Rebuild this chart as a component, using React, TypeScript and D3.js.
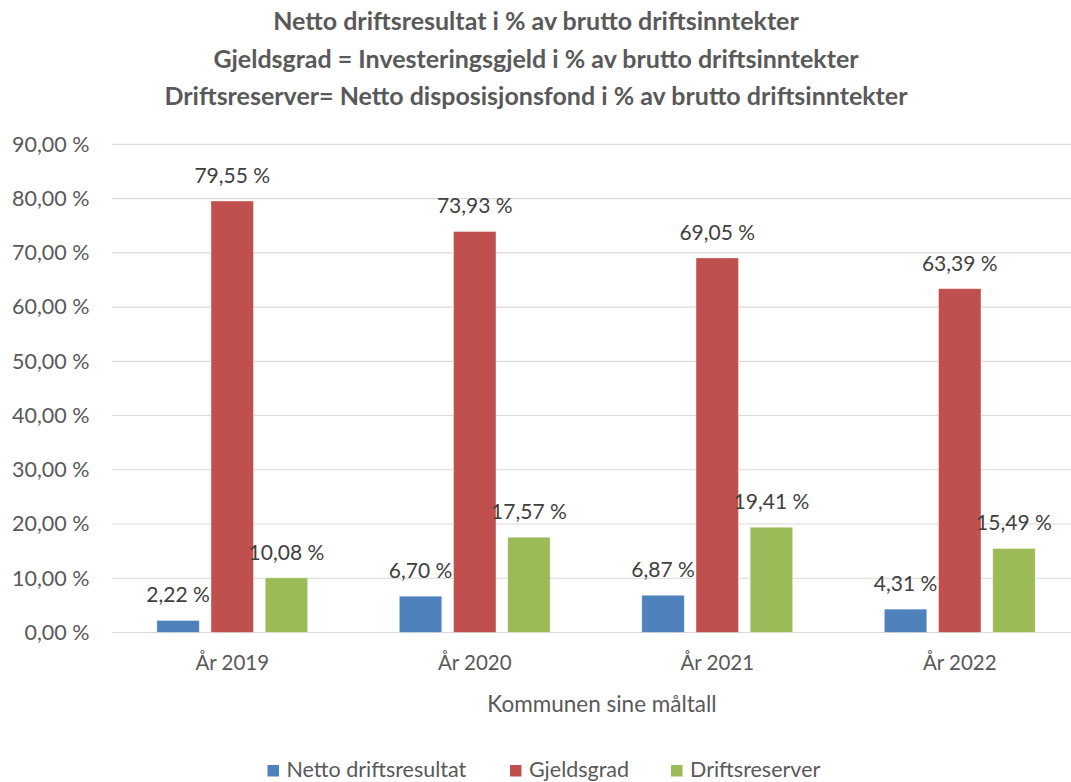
import React from "react";
import * as d3 from "d3";

const categories: string[] = ["År 2019", "År 2020", "År 2021", "År 2022"];
const seriesNames: string[] = ["Netto driftsresultat", "Gjeldsgrad", "Driftsreserver"];
const nettoDriftsresultat: number[] = [2.22, 6.7, 6.87, 4.31];
const gjeldsgrad: number[] = [79.55, 73.93, 69.05, 63.39];
const driftsreserver: number[] = [10.08, 17.57, 19.41, 15.49];
const yTicks: number[] = [0, 10, 20, 30, 40, 50, 60, 70, 80, 90];
const titleLines: string[] = [
  "Netto driftsresultat i % av brutto driftsinntekter",
  "Gjeldsgrad = Investeringsgjeld i % av brutto driftsinntekter",
  "Driftsreserver= Netto disposisjonsfond i % av brutto driftsinntekter",
];
const xAxisTitle = "Kommunen sine måltall";
const colors: string[] = ["#4F81BD", "#C0504D", "#9BBB59"];

const W = 1071;
const H = 782;
const FONT = "Lato, 'Open Sans', sans-serif";

const fmt = (v: number) => v.toFixed(2).replace(".", ",") + " %";

export default function App() {
  const series = [nettoDriftsresultat, gjeldsgrad, driftsreserver];
  const x = d3.scaleBand<string>().domain(categories).range([111, 1081]).padding(0);
  const y = d3.scaleLinear().domain([0, 90]).range([632.5, 144.3]);
  const barW = 42.5;
  const barStep = 54.2;
  const gridLeft = 112;
  const legendX = [267.5, 510, 671];

  return (
    <div style={{ position: "absolute", left: 0, top: 0 }}>
      <svg width={W} height={H} style={{ display: "block", background: "#fff" }} fontFamily={FONT}>
        {titleLines.map((t, i) => (
          <text key={i} x={536} y={30 + i * 37.5} textAnchor="middle" fontSize={25} fontWeight={700} fill="#595959">
            {t}
          </text>
        ))}
        {yTicks.map((t) => (
          <line key={t} x1={gridLeft} x2={1081} y1={y(t)} y2={y(t)} stroke="#D9D9D9" strokeWidth={1.2} />
        ))}
        {yTicks.map((t) => (
          <text key={"l" + t} x={89.5} y={y(t) + 7.3} textAnchor="end" fontSize={21.5} fill="#595959">
            {fmt(t)}
          </text>
        ))}
        {series.map((vals, si) =>
          vals.map((v, ci) => {
            const cx = (x(categories[ci]) as number) + x.bandwidth() / 2 + (si - 1) * barStep;
            return (
              <rect
                key={si + "-" + ci}
                x={cx - barW / 2}
                y={y(v)}
                width={barW}
                height={y(0) - y(v)}
                fill={colors[si]}
                stroke="#ffffff"
                strokeOpacity={0.5}
                strokeWidth={0.8}
              />
            );
          })
        )}
        {series.map((vals, si) =>
          vals.map((v, ci) => {
            const cx = (x(categories[ci]) as number) + x.bandwidth() / 2 + (si - 1) * barStep;
            return (
              <text key={"v" + si + "-" + ci} x={cx} y={y(v) - 18} textAnchor="middle" fontSize={21} fill="#404040">
                {fmt(v)}
              </text>
            );
          })
        )}
        {categories.map((c) => (
          <text key={c} x={(x(c) as number) + x.bandwidth() / 2} y={669.5} textAnchor="middle" fontSize={20.5} fill="#595959">
            {c}
          </text>
        ))}
        <text x={602} y={711.5} textAnchor="middle" fontSize={22.5} fill="#595959">
          {xAxisTitle}
        </text>
        {seriesNames.map((n, i) => (
          <g key={n}>
            <rect x={legendX[i]} y={765} width={11.5} height={11.5} fill={colors[i]} />
            <text x={legendX[i] + 19} y={777} fontSize={21.5} fill="#595959">
              {n}
            </text>
          </g>
        ))}
      </svg>
    </div>
  );
}
